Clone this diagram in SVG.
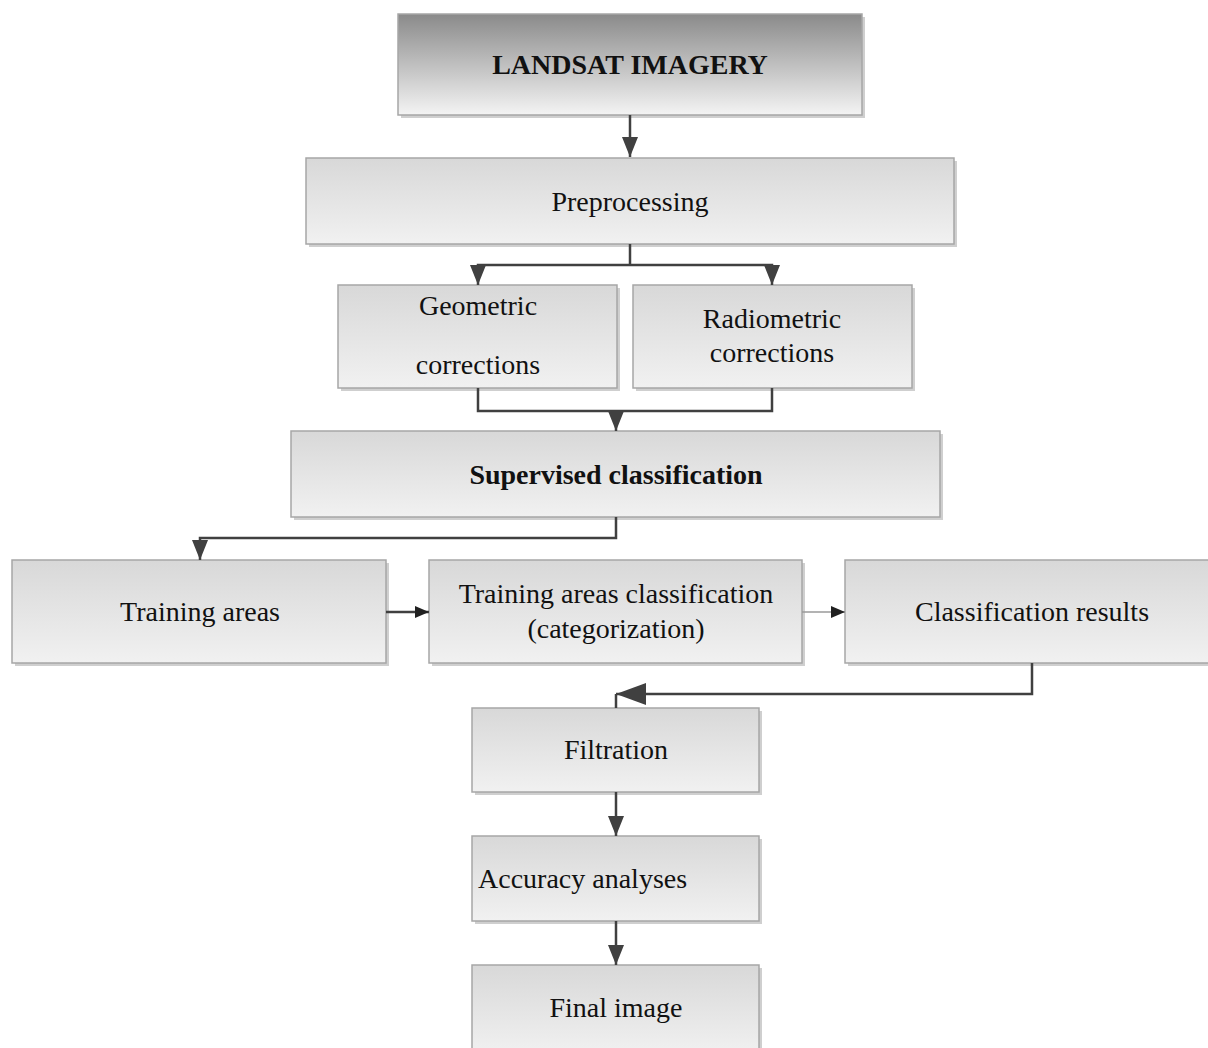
<svg xmlns="http://www.w3.org/2000/svg" width="1208" height="1048" viewBox="0 0 1208 1048">
<defs>
<linearGradient id="gBox" x1="0" y1="0" x2="0" y2="1">
<stop offset="0" stop-color="#d8d8d8"/>
<stop offset="1" stop-color="#f1f1f1"/>
</linearGradient>
<linearGradient id="gTop" x1="0" y1="0" x2="0" y2="1">
<stop offset="0" stop-color="#8a8a8a"/>
<stop offset="1" stop-color="#f4f4f4"/>
</linearGradient>
<marker id="ah" markerUnits="userSpaceOnUse" markerWidth="20" markerHeight="20" viewBox="0 0 20 16" refX="20" refY="8" orient="auto">
<path d="M0 0 L20 8 L0 16 Z" fill="#404040"/>
</marker>
<marker id="ahs" markerUnits="userSpaceOnUse" markerWidth="14" markerHeight="14" viewBox="0 0 14 12" refX="14" refY="6" orient="auto">
<path d="M0 0 L14 6 L0 12 Z" fill="#202020"/>
</marker>
<marker id="ahl" markerUnits="userSpaceOnUse" markerWidth="30" markerHeight="22" viewBox="0 0 30 22" refX="30" refY="11" orient="auto">
<path d="M0 0 L30 11 L0 22 Z" fill="#404040"/>
</marker>
</defs>
<style>
.box{fill:url(#gBox);stroke:#a6a6a6;stroke-width:1.5}
.top{fill:url(#gTop);stroke:#a6a6a6;stroke-width:1.5}
.sh{fill:#cfcfcf}
.t{font-family:"Liberation Serif","Times New Roman",serif;font-size:28px;fill:#111;text-anchor:middle}
.b{font-weight:bold}
.c{fill:none;stroke:#404040;stroke-width:2.5}
</style>
<rect width="1208" height="1048" fill="#ffffff"/>

<g id="landsat">
<rect class="sh" x="401" y="17" width="464" height="101"/>
<rect class="top" x="398" y="14" width="464" height="101"/>
<text class="t b" x="630" y="74">LANDSAT IMAGERY</text>
</g>

<g id="preprocessing">
<rect class="sh" x="309" y="161" width="648" height="86"/>
<rect class="box" x="306" y="158" width="648" height="86"/>
<text class="t" x="630" y="211">Preprocessing</text>
</g>

<g id="geometric">
<rect class="sh" x="341" y="288" width="279" height="103"/>
<rect class="box" x="338" y="285" width="279" height="103"/>
<text class="t" x="478" y="315">Geometric</text>
<text class="t" x="478" y="374">corrections</text>
</g>

<g id="radiometric">
<rect class="sh" x="636" y="288" width="279" height="103"/>
<rect class="box" x="633" y="285" width="279" height="103"/>
<text class="t" x="772" y="328">Radiometric</text>
<text class="t" x="772" y="362">corrections</text>
</g>

<g id="supervised">
<rect class="sh" x="294" y="434" width="649" height="86"/>
<rect class="box" x="291" y="431" width="649" height="86"/>
<text class="t b" x="616" y="484">Supervised classification</text>
</g>

<g id="training">
<rect class="sh" x="15" y="563" width="374" height="103"/>
<rect class="box" x="12" y="560" width="374" height="103"/>
<text class="t" x="200" y="621">Training areas</text>
</g>

<g id="tac">
<rect class="sh" x="432" y="563" width="373" height="103"/>
<rect class="box" x="429" y="560" width="373" height="103"/>
<text class="t" x="616" y="603">Training areas classification</text>
<text class="t" x="616" y="638">(categorization)</text>
</g>

<g id="results">
<rect class="sh" x="848" y="563" width="370" height="103"/>
<rect class="box" x="845" y="560" width="370" height="103"/>
<text class="t" x="1032" y="621">Classification results</text>
</g>

<g id="filtration">
<rect class="sh" x="475" y="711" width="287" height="84"/>
<rect class="box" x="472" y="708" width="287" height="84"/>
<text class="t" x="616" y="759">Filtration</text>
</g>

<g id="accuracy">
<rect class="sh" x="475" y="839" width="287" height="85"/>
<rect class="box" x="472" y="836" width="287" height="85"/>
<text class="t" x="478" y="888" style="text-anchor:start">Accuracy analyses</text>
</g>

<g id="final">
<rect class="sh" x="475" y="968" width="287" height="90"/>
<rect class="box" x="472" y="965" width="287" height="90"/>
<text class="t" x="616" y="1017">Final image</text>
</g>

<g id="connectors">
<path class="c" d="M630 115 V157" marker-end="url(#ah)"/>
<path class="c" d="M630 244 V265"/>
<path class="c" d="M630 265 H478 V285" marker-end="url(#ah)"/>
<path class="c" d="M630 265 H772 V285" marker-end="url(#ah)"/>
<path class="c" d="M478 388 V411 H772 V388"/>
<path class="c" d="M616 411 V431" marker-end="url(#ah)"/>
<path class="c" d="M616 517 V538 H200 V560" marker-end="url(#ah)"/>
<path class="c" d="M386 612 H429" marker-end="url(#ahs)"/>
<path d="M802 612 H845" fill="none" stroke="#9a9a9a" stroke-width="1.5" marker-end="url(#ahs)"/>
<path class="c" d="M1032 663 V694 H616" marker-end="url(#ahl)"/>
<path class="c" d="M616 694 V708"/>
<path class="c" d="M616 792 V836" marker-end="url(#ah)"/>
<path class="c" d="M616 921 V965" marker-end="url(#ah)"/>
</g>
</svg>
